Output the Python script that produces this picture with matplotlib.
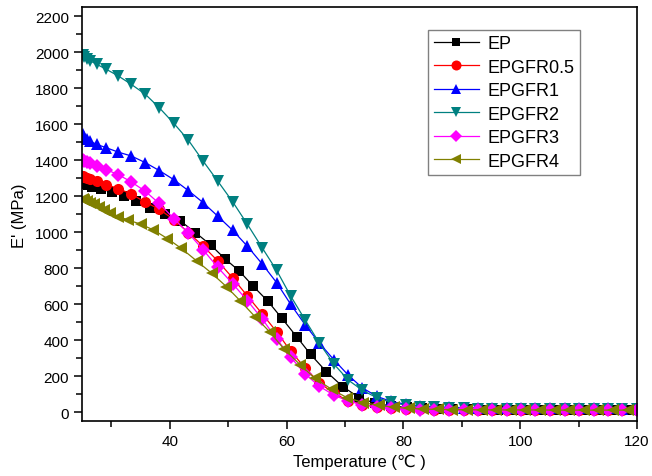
import matplotlib
matplotlib.use("Agg")
import matplotlib.pyplot as plt
from matplotlib.ticker import MultipleLocator

plt.rcParams["font.family"] = ["Liberation Sans", "DejaVu Sans"]

# temperature grid shared by EPGFR0.5 / 1 / 2 / 3 (degC)
temp = [25.1, 25.4, 25.8, 26.4, 27.5, 29.1, 31.2, 33.4, 35.8, 38.2, 40.7, 43.2,
        45.7, 48.2, 50.8, 53.3, 55.8, 58.3, 60.7, 63.2, 65.6, 68.1, 70.6, 73.0,
        75.5, 77.9, 80.4, 82.8, 85.3, 87.8, 90.3, 92.7, 95.2, 97.7, 100.2, 102.6,
        105.1, 107.6, 110.1, 112.6, 115.0, 117.5, 120.0]
temp_ep = [25.1, 25.5, 26.0, 26.7, 28.2, 30.1, 32.1, 34.3, 36.6, 39.2, 41.8, 44.4,
           47.0, 49.4, 51.9, 54.3, 56.8, 59.2, 61.7, 64.1, 66.8, 69.6, 72.4, 75.2,
           77.9, 80.6, 83.2, 85.8, 88.4, 91.0, 93.6, 96.2, 98.8, 101.4, 104.0, 106.5,
           109.0, 111.5, 114.0, 116.5, 119.0]
temp_gfr4 = [25.1, 25.4, 25.8, 26.3, 27.0, 27.9, 28.8, 29.8, 31.2, 32.9, 35.1, 37.2,
             39.6, 42.0, 44.6, 47.2, 49.7, 52.1, 54.6, 57.1, 59.6, 62.3, 64.8, 67.7,
             70.3, 73.1, 75.8, 78.4, 80.9, 83.4, 85.9, 88.4, 90.9, 93.4, 95.9, 98.4,
             100.9, 103.4, 105.9, 108.4, 110.9, 113.4, 115.9, 118.4]

# storage modulus E' (MPa)
e_ep = [1272, 1268, 1262, 1254, 1239, 1224, 1202, 1174, 1137, 1100, 1063, 998,
        930, 854, 785, 700, 617, 522, 421, 322, 226, 143, 82, 50,
        35, 27, 22, 19, 17, 16, 15, 15, 14, 14, 14, 14,
        14, 14, 14, 14, 14]
e_gfr05 = [1313, 1308, 1302, 1296, 1285, 1265, 1243, 1212, 1168, 1128, 1070, 998,
           924, 841, 745, 646, 548, 447, 340, 245, 165, 105, 65, 42,
           30, 23, 19, 17, 15, 14, 14, 13, 13, 13, 12, 12,
           12, 12, 12, 12, 12, 12, 12]
e_gfr1 = [1545, 1530, 1518, 1505, 1488, 1470, 1445, 1424, 1387, 1343, 1292, 1231,
          1165, 1090, 1010, 922, 825, 720, 600, 485, 385, 292, 205, 135,
          88, 60, 45, 36, 31, 28, 26, 25, 24, 24, 23, 23,
          23, 22, 22, 22, 22, 21, 21]
e_gfr2 = [1985, 1975, 1965, 1952, 1933, 1906, 1868, 1822, 1767, 1692, 1605, 1511,
          1396, 1285, 1168, 1044, 915, 788, 646, 512, 385, 268, 178, 122,
          80, 55, 40, 32, 27, 24, 22, 21, 20, 20, 19, 19,
          18, 18, 18, 18, 17, 17, 17]
e_gfr3 = [1400, 1396, 1392, 1385, 1370, 1348, 1320, 1280, 1228, 1160, 1076, 995,
          903, 806, 713, 620, 520, 408, 306, 212, 145, 95, 62, 42,
          30, 22, 17, 14, 13, 12, 11, 11, 10, 10, 10, 10,
          10, 10, 10, 10, 10, 10, 10]
e_gfr4 = [1183, 1178, 1172, 1165, 1155, 1140, 1125, 1109, 1087, 1068, 1044, 1013,
          965, 910, 841, 772, 698, 618, 531, 447, 350, 265, 190, 128,
          82, 54, 38, 28, 22, 18, 16, 15, 14, 14, 13, 13,
          13, 13, 12, 12, 12, 12, 12, 12]

series = [
    ("EP", temp_ep, e_ep, "#000000", "s", 7),
    ("EPGFR0.5", temp, e_gfr05, "#ff0000", "o", 8),
    ("EPGFR1", temp, e_gfr1, "#0000ff", "^", 8.5),
    ("EPGFR2", temp, e_gfr2, "#008080", "v", 8.5),
    ("EPGFR3", temp, e_gfr3, "#ff00ff", "D", 7),
    ("EPGFR4", temp_gfr4, e_gfr4, "#808000", "<", 8.5),
]

fig = plt.figure(figsize=(6.52, 4.77), dpi=100)
ax = fig.add_axes([0.126, 0.1147, 0.851, 0.868])

for name, x, y, color, marker, ms in series:
    ax.plot(x, y, color=color, lw=0.9, marker=marker, ms=ms,
            markeredgewidth=0, label=name)

ax.set_xlim(25, 120)
ax.set_ylim(-50, 2250)
ax.xaxis.set_major_locator(MultipleLocator(20))
ax.xaxis.set_minor_locator(MultipleLocator(10))
ax.yaxis.set_major_locator(MultipleLocator(200))
ax.yaxis.set_minor_locator(MultipleLocator(100))
ax.tick_params(which="both", direction="out", top=False, right=False,
               labelsize=11, width=1.1)
ax.tick_params(which="major", length=6)
ax.tick_params(which="minor", length=4)
for s in ax.spines.values():
    s.set_linewidth(1.2)

ax.set_xlabel("Temperature (\u2103 )", fontsize=12, labelpad=4)
ax.set_ylabel("E' (MPa)", fontsize=12, labelpad=6)

leg = ax.legend(loc="upper left", bbox_to_anchor=(0.624, 0.946), borderaxespad=0,
                fontsize=13, fancybox=False, framealpha=1, edgecolor="#808080",
                handlelength=2.5, handletextpad=0.5, labelspacing=0.36,
                borderpad=0.3, markerscale=0.9)
leg.get_frame().set_linewidth(1.0)

fig.savefig("out.png", dpi=100)
